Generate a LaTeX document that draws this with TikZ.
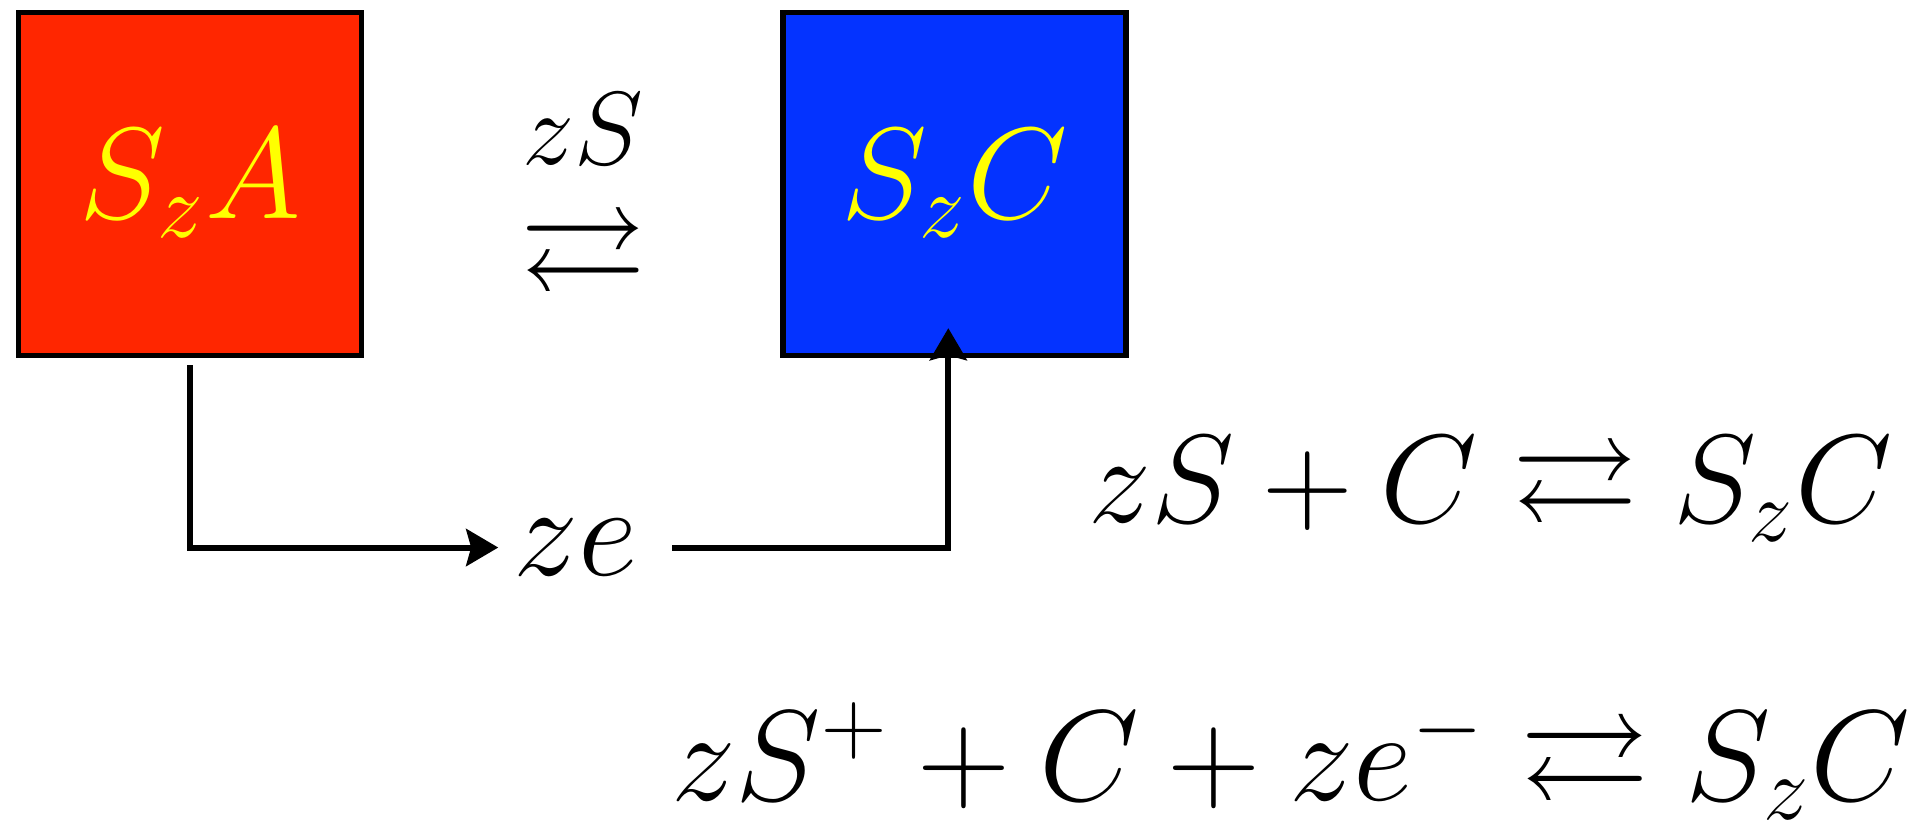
\documentclass[tikz,border=0pt]{standalone}
\usepackage{fix-cm}
\usepackage{amsmath,amssymb}
\usetikzlibrary{arrows.meta,positioning}
\definecolor{phasered}{HTML}{FF2600}
\definecolor{phaseblue}{HTML}{0433FF}
\definecolor{phasetext}{HTML}{FFFF00}
\tikzset{
  phasebox/.style={draw=black, line width=1.2pt, minimum width=2.78cm, minimum height=2.78cm, inner sep=0pt, text=phasetext, font=\fontsize{30}{36}\selectfont},
  big/.style={inner sep=0pt, font=\fontsize{29}{35}\selectfont},
  flow/.style={line width=1.4pt, -{Stealth[length=0.26cm,width=0.3cm,inset=0.04cm]}}
}
\begin{document}
\begin{tikzpicture}
  \useasboundingbox (0,0) rectangle (15.61,6.66);
  \node[phasebox, fill=phasered] (SzA) at (1.54,5.17) {$S_zA$};
  \node[phasebox, fill=phaseblue] (SzC) at (7.74,5.17) {$S_zC$};
  \node[big] (swap) at (4.73,4.55) {$\rightleftarrows$};
  \node[big, font=\fontsize{24}{29}\selectfont, anchor=base] (gas) at (4.73,5.33) {$zS$};
  \node[big, font=\fontsize{30}{36}\selectfont, inner sep=0.12cm] (ze) at (4.67,2.22) {$ze$};
  \draw[flow] ([yshift=-0.06cm]SzA.south) |- (ze);
  \draw[flow] ([xshift=0.15cm]ze.east) -| ([xshift=-0.05cm,yshift=0.24cm]SzC.south);
  \node[big, anchor=base west] (eqA) at (8.82,2.425) {$zS + C \rightleftarrows S_zC$};
  \node[big, font=\fontsize{29.8}{36}\selectfont, anchor=base east] (eqB) at (15.50,0.17) {$zS^+ + C + ze^- \rightleftarrows S_zC$};
\end{tikzpicture}
\end{document}
